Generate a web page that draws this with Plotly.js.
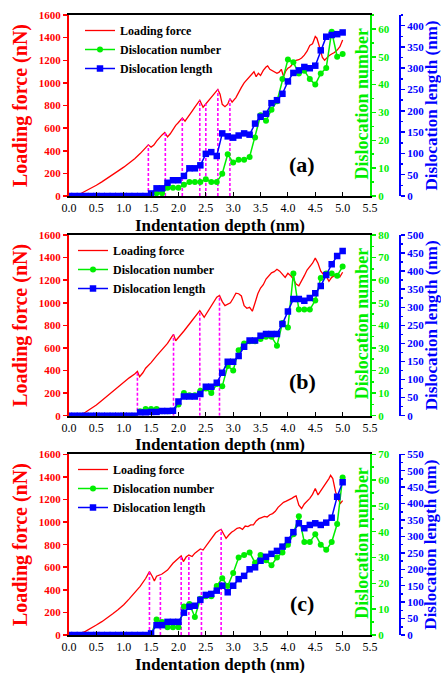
<!DOCTYPE html>
<html><head><meta charset="utf-8">
<script src="https://cdn.plot.ly/plotly-3.0.1.min.js"></script>
<style>html,body{margin:0;padding:0;background:#fff}#plot{width:441px;height:673px}</style>
</head><body><div id="plot"></div>
<script>
// ---------- data ----------
const depthSteps = [0,0.1,0.2,0.3,0.4,0.5,0.6,0.7,0.8,0.9,1.0,1.1,1.2,1.3,1.4,1.5,1.6,1.7,1.8,1.9,2.0,2.1,2.2,2.3,2.4,2.5,2.6,2.7,2.8,2.9,3.0,3.1,3.2,3.3,3.4,3.5,3.6,3.7,3.8,3.9,4.0,4.1,4.2,4.3,4.4,4.5,4.6,4.7,4.8,4.9,5.0];

// panel (a)
const forceA_x = [0,0.1,0.2,0.3,0.4,0.5,0.6,0.7,0.8,0.9,1.0,1.1,1.2,1.3,1.4,1.45,1.5,1.55,1.6,1.65,1.7,1.75,1.8,1.85,1.9,1.95,2.0,2.07,2.12,2.15,2.2,2.25,2.3,2.35,2.39,2.45,2.5,2.55,2.6,2.65,2.72,2.76,2.8,2.85,2.9,2.94,2.98,3.05,3.1,3.15,3.2,3.25,3.3,3.35,3.38,3.42,3.46,3.5,3.55,3.6,3.63,3.67,3.72,3.76,3.8,3.84,3.88,3.92,3.96,4.0,4.05,4.1,4.15,4.2,4.25,4.3,4.35,4.4,4.45,4.5,4.53,4.57,4.6,4.63,4.67,4.7,4.75,4.8,4.85,4.9,4.95,5.0];
const forceA_y = [0,3,18,42,68,95,125,155,188,222,255,290,330,375,425,452,432,450,485,515,540,562,522,550,590,625,650,690,662,680,715,750,785,820,847,785,815,840,875,905,942,900,810,790,812,860,830,870,920,960,1000,1025,1050,1080,1098,1055,1085,1065,1110,1140,1150,1120,1105,1095,1085,1095,1120,1055,1105,1130,1145,1180,1200,1205,1220,1245,1280,1330,1345,1410,1395,1330,1280,1225,1200,1215,1240,1255,1268,1290,1320,1380];
const dislNumA = [0,0,0,0,0,0,0,0,0,0,0,0,0,0,0,0,1,1,3,3,3,4,5,5,5,6,5,5,8,15,12,13,13,14,21,29,27,31,34,42,49,48,44,45,42,40,44,46,59,50,51];
const dislLenA = [0,0,0,0,0,0,0,0,0,0,0,0,0,0,0,6,18,18,31,37,37,47,65,65,72,99,103,94,147,140,137,142,147,144,170,186,193,218,225,240,269,289,295,303,300,306,342,374,378,380,384];
const dashA_x = [1.45,1.76,2.07,2.39,2.5,2.72,2.94];
const dashA_y = [452,562,690,847,815,942,860];

// panel (b)
const forceB_x = [0,0.1,0.2,0.3,0.4,0.5,0.6,0.7,0.8,0.9,1.0,1.1,1.2,1.25,1.29,1.35,1.4,1.5,1.6,1.7,1.8,1.88,1.91,1.95,2.0,2.1,2.2,2.3,2.39,2.47,2.55,2.6,2.7,2.75,2.8,2.85,2.9,2.95,3.0,3.05,3.1,3.15,3.2,3.25,3.3,3.35,3.4,3.45,3.5,3.55,3.6,3.65,3.7,3.75,3.8,3.85,3.9,3.95,4.0,4.05,4.1,4.15,4.2,4.25,4.3,4.35,4.4,4.45,4.5,4.55,4.6,4.65,4.7,4.75,4.8,4.85,4.9,4.95,5.0];
const forceB_y = [0,0,5,30,60,95,135,175,218,260,301,335,370,392,345,380,420,470,530,585,640,700,720,664,690,750,812,870,930,871,930,975,1050,1065,1010,975,985,1000,1040,1085,1080,1060,975,951,960,925,1000,1080,1130,1160,1210,1240,1265,1275,1296,1280,1250,1225,1261,1240,1210,1165,1150,1190,1240,1290,1320,1350,1395,1350,1280,1250,1235,1190,1225,1240,1245,1230,1270];
const dislNumB = [0,0,0,0,0,0,0,0,0,0,0,0,0,2,3,3,3,2,2,2,5,10,9,9,11,12,10,14,13,22,20,29,32,33,33,34,35,35,31,41,39,63,47,47,47,51,61,63,63,62,66];
const dislLenB = [0,0,0,0,0,0,0,0,0,0,0,0,0,9,9,10,10,13,13,14,39,53,53,53,60,80,80,91,119,149,149,165,191,208,208,221,226,226,226,254,288,323,323,318,326,339,359,389,419,442,456];
const dashB_x = [1.25,1.91,2.39,2.75];
const dashB_y = [392,720,930,1065];

// panel (c)
const forceC_x = [0,0.1,0.2,0.3,0.4,0.5,0.6,0.7,0.8,0.9,1.0,1.1,1.2,1.3,1.4,1.47,1.52,1.56,1.6,1.65,1.7,1.8,1.9,2.0,2.05,2.09,2.14,2.19,2.25,2.3,2.35,2.4,2.45,2.5,2.56,2.62,2.68,2.74,2.78,2.83,2.87,2.92,2.97,3.02,3.07,3.12,3.17,3.22,3.27,3.32,3.37,3.42,3.47,3.52,3.57,3.62,3.67,3.72,3.77,3.82,3.87,3.92,3.97,4.02,4.07,4.12,4.15,4.2,4.25,4.3,4.35,4.4,4.45,4.5,4.55,4.6,4.65,4.7,4.75,4.78,4.82,4.87,4.92,4.96,5.0];
const forceC_y = [0,3,12,32,58,88,118,150,188,225,268,320,375,430,500,561,520,478,520,530,540,575,635,680,700,650,690,708,695,725,745,762,752,785,826,860,905,925,936,890,855,885,910,925,945,950,935,965,960,975,975,1010,1030,1040,1050,1045,1065,1075,1095,1130,1150,1175,1185,1195,1210,1225,1232,1150,1120,1160,1185,1210,1245,1297,1240,1275,1305,1340,1385,1414,1385,1269,1200,1165,1190];
const dislNumC = [0,0,0,0,0,0,0,0,0,0,0,0,0,0,0,0,6,5,3,3,3,11,12,7,14,15,15,19,22,19,24,30,31,32,28,31,29,27,30,32,35,39,46,36,36,39,35,33,36,43,61];
const dislLenC = [0,0,0,0,0,0,0,0,0,0,0,0,0,0,0,5,30,30,40,40,40,68,86,89,107,122,125,135,150,130,150,170,180,200,206,226,238,247,256,269,289,313,340,325,335,340,335,342,357,421,465];
const dashC_x = [1.47,1.67,2.05,2.19,2.42,2.78];
const dashC_y = [561,535,700,708,757,936];

const panelLabels = ['(a)','(b)','(c)'];
const greenRanges = [[0,65],[0,80],[0,70]];
const blueRanges = [[0,425],[0,500],[0,550]];

// ---------- styling ----------
const RED='#ff0000', GREEN='#00ee00', BLUE='#0000ff', MAG='#ff00ff';
const FONT='Liberation Serif, Times New Roman, serif';
const W=441, H=673, ML=69, MT=15, MB=38;
const PW = W-ML, PH = H-MT-MB;
const px2x = p => (p-ML)/PW;
const py2y = p => (635-p)/PH;
const xDomEnd = px2x(370);
const bluePos = px2x(400);
const panelPix = [[15,196],[235,415.7],[454.3,635]];

function dashPath(xs, ys){
  const X=[],Y=[];
  xs.forEach((x,i)=>{X.push(x,x,null);Y.push(0,ys[i],null);});
  return {x:X,y:Y};
}

const panels = [
  {fx:forceA_x, fy:forceA_y, num:dislNumA, len:dislLenA, dx:dashA_x, dy:dashA_y},
  {fx:forceB_x, fy:forceB_y, num:dislNumB, len:dislLenB, dx:dashB_x, dy:dashB_y},
  {fx:forceC_x, fy:forceC_y, num:dislNumC, len:dislLenC, dx:dashC_x, dy:dashC_y}
];

const data=[]; const layout={
  width:W, height:H, margin:{l:ML,r:0,t:MT,b:MB},
  paper_bgcolor:'#fff', plot_bgcolor:'#fff', showlegend:true,
  font:{family:FONT, color:'#000'}, annotations:[]
};

panels.forEach((p,i)=>{
  const xa = i===0?'x':'x'+(i+1);
  const yR = 'y'+(i===0?'':(3*i+1));
  const yG = 'y'+(3*i+2);
  const yB = 'y'+(3*i+3);
  const leg = i===0?'legend':'legend'+(i+1);
  const dom = [py2y(panelPix[i][1]), py2y(panelPix[i][0])];
  const dp = dashPath(p.dx,p.dy);
  data.push({x:p.fx,y:p.fy,xaxis:xa,yaxis:yR,type:'scatter',mode:'lines',name:'Loading force',
    line:{color:RED,width:1.3},legend:leg});
  data.push({x:dp.x,y:dp.y,xaxis:xa,yaxis:yR,type:'scatter',mode:'lines',showlegend:false,
    line:{color:MAG,width:1.6,dash:'3px,2px'},hoverinfo:'skip',connectgaps:false});
  data.push({x:depthSteps,y:p.num,xaxis:xa,yaxis:yG,type:'scatter',mode:'lines+markers',name:'Dislocation number',
    line:{color:GREEN,width:1.5},marker:{color:GREEN,symbol:'circle',size:6},legend:leg});
  data.push({x:depthSteps,y:p.len,xaxis:xa,yaxis:yB,type:'scatter',mode:'lines+markers',name:'Dislocation length',
    line:{color:BLUE,width:1.5},marker:{color:BLUE,symbol:'square',size:6.5},legend:leg});

  const xKey = i===0?'xaxis':'xaxis'+(i+1);
  layout[xKey] = {domain:[0,xDomEnd], anchor:yR, range:[0,5.5], dtick:0.5, tick0:0, tickformat:'.1f',
    showline:true, linecolor:'#000', linewidth:2, mirror:true, ticks:'inside', ticklen:4, tickcolor:'#000',
    tickfont:{family:FONT,size:12,color:'#000'}, showgrid:false, zeroline:false, ticklabelstandoff:0};
  const yRKey = i===0?'yaxis':'yaxis'+(3*i+1);
  layout[yRKey] = {domain:dom, anchor:xa, range:[0,1600], dtick:200, showline:true, linecolor:RED, linewidth:2,
    ticks:'outside', ticklen:4, tickcolor:RED, tickwidth:1.5, showgrid:false, zeroline:false,
    tickfont:{family:FONT,size:11,color:RED,weight:'bold'},
    title:{text:'Loading force (nN)', font:{family:FONT,size:20,color:RED,weight:'bold'}, standoff:6}};
  layout['yaxis'+(3*i+2)] = {domain:dom, anchor:xa, overlaying:yR, side:'right', range:greenRanges[i], dtick:10,
    showline:true, linecolor:GREEN, linewidth:2, ticks:'outside', ticklen:4, tickcolor:GREEN, tickwidth:1.5,
    minor:{ticks:'outside', ticklen:2, dtick:5, tickcolor:GREEN},
    showgrid:false, zeroline:false, tickfont:{family:FONT,size:11,color:GREEN,weight:'bold'}};
  layout['yaxis'+(3*i+3)] = {domain:dom, anchor:'free', position:bluePos, overlaying:yR, side:'right',
    range:blueRanges[i], dtick:50, showline:true, linecolor:BLUE, linewidth:2, ticks:'outside', ticklen:4,
    tickcolor:BLUE, tickwidth:1.5, minor:{ticks:'outside', ticklen:2, dtick:25, tickcolor:BLUE},
    showgrid:false, zeroline:false, tickfont:{family:FONT,size:11,color:BLUE,weight:'bold'}};

  const legTop = [16,236,455][i];
  const legLeft = [80,73,73][i];
  layout[leg] = {x:px2x(legLeft), y:py2y(legTop), xanchor:'left', yanchor:'top', bgcolor:'rgba(0,0,0,0)',
    borderwidth:0, font:{family:FONT,size:12,color:'#000',weight:'bold'}, tracegroupgap:0};

  const midY = (panelPix[i][0]+panelPix[i][1])/2;
  // x-axis title (placed below the tick labels)
  layout.annotations.push({text:'Indentation depth (nm)', xref:'paper', yref:'paper', x:px2x((69+370)/2),
    y:py2y(panelPix[i][1]+29), showarrow:false, xanchor:'center', yanchor:'middle',
    font:{family:FONT,size:17,color:'#000',weight:'bold'}});
  layout.annotations.push({text:'Dislocation number', xref:'paper', yref:'paper', x:px2x(362), y:py2y(midY-2),
    textangle:-90, showarrow:false, xanchor:'center', yanchor:'middle',
    font:{family:FONT,size:18,color:GREEN,weight:'bold'}});
  layout.annotations.push({text:'Dislocation length (nm)', xref:'paper', yref:'paper', x:px2x(431), y:py2y(midY),
    textangle:-90, showarrow:false, xanchor:'center', yanchor:'middle',
    font:{family:FONT,size:17,color:BLUE,weight:'bold'}});
  layout.annotations.push({text:panelLabels[i], xref:'paper', yref:'paper', x:px2x(302), y:py2y([164,381.7,603.3][i]),
    showarrow:false, xanchor:'center', yanchor:'middle', font:{family:FONT,size:22,color:'#000',weight:'bold'}});
});

Plotly.newPlot('plot', data, layout, {displayModeBar:false, staticPlot:true});
</script></body></html>
